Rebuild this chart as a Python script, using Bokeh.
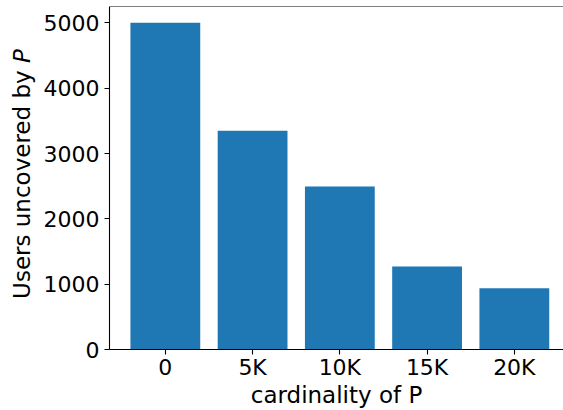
import math

from bokeh.embed import file_html
from bokeh.layouts import row
from bokeh.models import Label, Range1d, Span
from bokeh.plotting import figure
from bokeh.resources import INLINE

# Users left uncovered as the cardinality of P grows
card_labels = ["0", "5K", "10K", "15K", "20K"]
users_uncovered = [5000, 3350, 2495, 1270, 937]
y_ticks = [0, 1000, 2000, 3000, 4000, 5000]

FONT = "DejaVu Sans"
BAR_COLOR = "#1f77b4"
W, H = 563, 410
TITLE_W = 40                 # narrow strip holding the rotated y title
MAIN_W = W - TITLE_W
FRAME_L, FRAME_T, FRAME_B = 109, 6, 349
BAR_W = 0.8
PX_PER_CAT = 87.25

xs = list(range(len(card_labels)))
n = len(card_labels)
x_lo = -BAR_W / 2 - 0.05 * (n - 1 + BAR_W)
x_hi = x_lo + (W - FRAME_L) / PX_PER_CAT
y_hi = max(users_uncovered) * 1.05

p = figure(
    width=MAIN_W, height=H,
    output_backend="svg", toolbar_location=None,
    x_range=Range1d(x_lo, x_hi), y_range=Range1d(0, y_hi),
    min_border_left=FRAME_L - TITLE_W, min_border_right=0,
    min_border_top=FRAME_T, min_border_bottom=H - FRAME_B,
)
p.background_fill_color = "white"
p.border_fill_color = "white"
p.outline_line_color = None
p.xgrid.visible = False
p.ygrid.visible = False

p.vbar(x=xs, top=users_uncovered, width=BAR_W, color=BAR_COLOR, line_color=None)

# top spine
p.add_layout(Span(location=y_hi, dimension="width", line_color="black", line_width=1.1))

for ax in (p.xaxis, p.yaxis):
    ax.axis_line_color = "black"
    ax.axis_line_width = 1.1
    ax.major_tick_line_color = "black"
    ax.major_tick_line_width = 1.1
    ax.major_tick_out = 5
    ax.major_tick_in = 0
    ax.minor_tick_line_color = None
    ax.major_label_text_font = FONT
    ax.major_label_text_font_size = "22px"
    ax.major_label_text_color = "black"
    ax.axis_label_text_font = FONT
    ax.axis_label_text_font_size = "23px"
    ax.axis_label_text_font_style = "normal"
    ax.axis_label_text_color = "black"

p.xaxis.ticker = xs
p.xaxis.major_label_overrides = {i: lab for i, lab in zip(xs, card_labels)}
p.xaxis.major_label_standoff = 0
p.xaxis.axis_label = "cardinality of P"
p.xaxis.axis_label_standoff = -1

p.yaxis.ticker = y_ticks
p.yaxis.major_label_standoff = 5

# y title strip: "Users uncovered by " upright, then an italic P
t = figure(
    width=TITLE_W, height=H,
    output_backend="svg", toolbar_location=None,
    x_range=Range1d(0, TITLE_W), y_range=Range1d(0, H),
    x_axis_type=None, y_axis_type=None, min_border=0,
)
t.background_fill_color = "white"
t.border_fill_color = "white"
t.outline_line_color = None
t.xgrid.visible = False
t.ygrid.visible = False

ylab_anchor = 21      # anchor column of the rotated title
ylab_join = H - 67.6  # where the italic P begins (measured from the bottom)

t.add_layout(Label(
    x=ylab_anchor, y=ylab_join,
    text="Users uncovered by ", angle=math.pi / 2,
    text_align="right", text_baseline="alphabetic",
    text_font=FONT, text_font_size="23px", text_color="black",
))
t.add_layout(Label(
    x=ylab_anchor, y=ylab_join,
    text="P", angle=math.pi / 2,
    text_align="left", text_baseline="alphabetic",
    text_font=FONT, text_font_size="23px", text_font_style="italic",
    text_color="black",
))

layout = row(t, p, spacing=0)

with open("out.html", "w") as f:
    f.write(file_html(layout, INLINE))
